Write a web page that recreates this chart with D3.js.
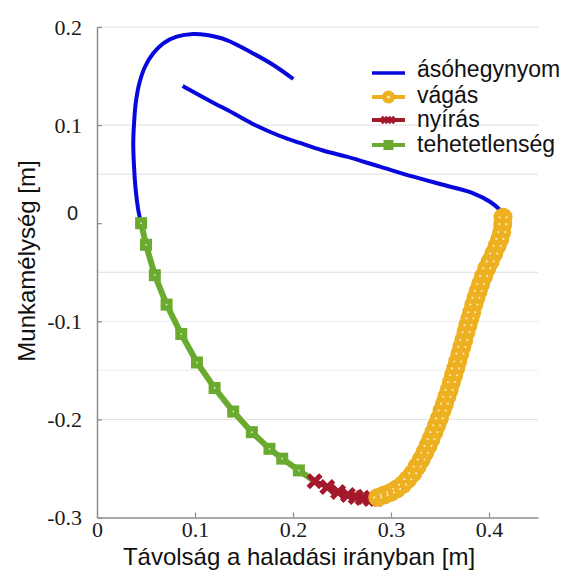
<!DOCTYPE html>
<html>
<head>
<meta charset="utf-8">
<script src="https://cdn.jsdelivr.net/npm/d3@7"></script>
<style>
  html, body { margin: 0; padding: 0; background: #fff; }
  svg { display: block; }
</style>
</head>
<body>
<svg id="chart" width="567" height="574"></svg>
<script>
// Bucket tip trajectory: distance in travel direction [m] vs. working depth [m]

// ásóhegynyom – upper arc of the tip path
const spadeArcX = [0.2003, 0.1799, 0.1561, 0.1323, 0.1119, 0.0983, 0.0813, 0.0677, 0.0574, 0.0490,
                   0.0432, 0.0395, 0.0378, 0.0370, 0.0378, 0.0395, 0.0421, 0.0449];
const spadeArcY = [0.1470, 0.1613, 0.1748, 0.1867, 0.1918, 0.1929, 0.1901, 0.1834, 0.1732, 0.1595,
                   0.1426, 0.1222, 0.1018, 0.0814, 0.0576, 0.0338, 0.0135, -0.0001];
// ásóhegynyom – return stroke toward the cutting start
const spadeReturnX = [0.0874, 0.1153, 0.1388, 0.1612, 0.1867, 0.2071, 0.2306, 0.2548, 0.2888, 0.3228,
                      0.3568, 0.3840, 0.4010, 0.4112, 0.4146];
const spadeReturnY = [0.1399, 0.1246, 0.1123, 0.1001, 0.0889, 0.0818, 0.0741, 0.0678, 0.0576, 0.0474,
                      0.0382, 0.0305, 0.0219, 0.0135, 0.0084];

// vágás (cutting)
const cutX = [0.4143, 0.4140, 0.4130, 0.4110, 0.4083, 0.4048, 0.4012, 0.3978, 0.3945, 0.3915,
              0.3890, 0.3867, 0.3845, 0.3823, 0.3805, 0.3785, 0.3765, 0.3743, 0.3723, 0.3703,
              0.3680, 0.3660, 0.3639, 0.3617, 0.3593, 0.3570, 0.3546, 0.3521, 0.3493, 0.3466,
              0.3438, 0.3408, 0.3377, 0.3344, 0.3308, 0.3267, 0.3222, 0.3172, 0.3118, 0.3058,
              0.2995, 0.2930, 0.2865];
const cutY = [0.006, -0.001, -0.009, -0.016, -0.023, -0.031, -0.039, -0.046, -0.054, -0.062,
              -0.069, -0.076, -0.083, -0.091, -0.097, -0.104, -0.111, -0.119, -0.126, -0.133,
              -0.141, -0.148, -0.155, -0.162, -0.170, -0.177, -0.184, -0.191, -0.199, -0.206,
              -0.213, -0.220, -0.227, -0.234, -0.241, -0.248, -0.255, -0.261, -0.2665, -0.271,
              -0.2745, -0.277, -0.2795];

// nyírás (shearing)
const shearX = [0.222, 0.235, 0.246, 0.256, 0.264, 0.271, 0.279, 0.285];
const shearY = [-0.263, -0.269, -0.274, -0.277, -0.279, -0.280, -0.281, -0.281];

// tehetetlenség (inertia)
const inertiaX = [0.045, 0.050, 0.059, 0.071, 0.086, 0.102, 0.120, 0.139, 0.158, 0.176, 0.189, 0.206];
const inertiaY = [0.000, -0.022, -0.053, -0.083, -0.113, -0.142, -0.168, -0.192, -0.213, -0.230, -0.240, -0.252];

const seriesNames = ["ásóhegynyom", "vágás", "nyírás", "tehetetlenség"];
const seriesColors = ["#0808dc", "#edb021", "#a3182a", "#6aab2f"];

const xTickValues = [0, 0.1, 0.2, 0.3, 0.4];
const yTickValues = [-0.3, -0.2, -0.1, 0, 0.1, 0.2];
const gridValues = [0.2, 0.1, 0.05, -0.05, -0.1, -0.15, -0.2];
const xDomain = [0, 0.45];
const yDomain = [-0.3, 0.2];
const xTitle = "Távolság a haladási irányban [m]";
const yTitle = "Munkamélység [m]";

const zip = (xs, ys) => xs.map((v, i) => [v, ys[i]]);
const serif = "'Liberation Serif', 'Times New Roman', serif";
const sans = "'Liberation Sans', Arial, sans-serif";

const svg = d3.select("#chart");
const margin = { left: 97, top: 27, right: 29, bottom: 56.5 };
const W = 567, H = 574;

const x = d3.scaleLinear().domain(xDomain).range([margin.left, W - margin.right]);
const y = d3.scaleLinear().domain(yDomain).range([H - margin.bottom, margin.top]);

// horizontal grid
svg.append("g").selectAll("line").data(gridValues).join("line")
  .attr("x1", x(xDomain[0])).attr("x2", x(xDomain[1]))
  .attr("y1", d => y(d)).attr("y2", d => y(d))
  .attr("stroke", d => (d === -0.1 || d === -0.15) ? "#ececec" : "#dedede")
  .attr("stroke-width", 1);

// axes (plain hyphen for negatives)
const tickText = d => d === 0 ? "0" : d.toFixed(1);
const yAxis = d3.axisLeft(y).tickValues(yTickValues)
  .tickSizeInner(-5).tickSizeOuter(0).tickPadding(15).tickFormat(tickText);
const xAxis = d3.axisBottom(x).tickValues(xTickValues)
  .tickSizeInner(-5).tickSizeOuter(0).tickPadding(4).tickFormat(tickText);

const gy = svg.append("g").attr("transform", `translate(${margin.left},0)`).call(yAxis);
const gx = svg.append("g").attr("transform", `translate(0,${y(yDomain[0])})`).call(xAxis);

[gx, gy].forEach(g => {
  g.attr("font-family", null).attr("font-size", null);
  g.select(".domain").attr("stroke", "#8c8c8c").attr("stroke-width", 1.5);
  g.selectAll(".tick line").attr("stroke", "#8c8c8c").attr("stroke-width", 1.2);
  g.selectAll(".tick text")
    .style("font-family", serif)
    .style("font-size", "22px").attr("fill", "#1a1a1a");
});
gx.selectAll(".tick line").filter(d => d === 0).remove();
gy.selectAll(".tick text").filter(d => d === 0)
  .style("font-family", sans)
  .style("font-size", "20px")
  .attr("transform", "translate(-4,-10)");

// axis titles
svg.append("text")
  .attr("x", 299).attr("y", 565)
  .attr("text-anchor", "middle")
  .style("font-family", sans)
  .style("font-size", "24px").attr("fill", "#111")
  .text(xTitle);
svg.append("text")
  .attr("transform", "translate(35,261) rotate(-90)")
  .attr("text-anchor", "middle")
  .style("font-family", sans)
  .style("font-size", "24px").attr("fill", "#111")
  .text(yTitle);

const line = d3.line().x(d => x(d[0])).y(d => y(d[1])).curve(d3.curveCatmullRom);
const straight = d3.line().x(d => x(d[0])).y(d => y(d[1]));
const plot = svg.append("g");

// ásóhegynyom
[zip(spadeArcX, spadeArcY), zip(spadeReturnX, spadeReturnY)].forEach(pts => {
  plot.append("path").datum(pts).attr("d", line)
    .attr("fill", "none").attr("stroke", seriesColors[0])
    .attr("stroke-width", 4).attr("stroke-linecap", "butt");
});

// tehetetlenség: line runs on to where shearing begins
const inertiaPts = zip(inertiaX, inertiaY);
plot.append("path").datum(inertiaPts.concat([[shearX[0], shearY[0]]]))
  .attr("d", straight)
  .attr("fill", "none").attr("stroke", seriesColors[3]).attr("stroke-width", 6);
plot.append("g").selectAll("rect").data(inertiaPts).join("rect")
  .attr("x", d => x(d[0]) - 6).attr("y", d => y(d[1]) - 6)
  .attr("width", 12).attr("height", 12).attr("fill", seriesColors[3]);
plot.append("g").selectAll("circle").data(inertiaPts).join("circle")
  .attr("cx", d => x(d[0])).attr("cy", d => y(d[1])).attr("r", 0.9)
  .attr("fill", "#d8ecc4");

// nyírás
const shearPts = zip(shearX, shearY);
plot.append("path").datum(shearPts).attr("d", straight)
  .attr("fill", "none").attr("stroke", seriesColors[2]).attr("stroke-width", 5);
const xMark = "M-4.5,-4.5L4.5,4.5M-4.5,4.5L4.5,-4.5";
plot.append("g").selectAll("path").data(shearPts).join("path")
  .attr("transform", d => `translate(${x(d[0])},${y(d[1])})`)
  .attr("d", xMark).attr("fill", "none")
  .attr("stroke", seriesColors[2]).attr("stroke-width", 5).attr("stroke-linecap", "square");

// vágás
const cutPts = zip(cutX, cutY);
plot.append("path").datum(cutPts).attr("d", line)
  .attr("fill", "none").attr("stroke", seriesColors[1]).attr("stroke-width", 4);
plot.append("g").selectAll("circle").data(cutPts).join("circle")
  .attr("cx", d => x(d[0])).attr("cy", d => y(d[1])).attr("r", 9.5)
  .attr("fill", seriesColors[1]);
const dots = plot.append("g").attr("fill", "#fbe6b0");
[-3.5, 3.5].forEach(off => {
  dots.append("g").selectAll("circle").data(cutPts).join("circle")
    .attr("cx", d => x(d[0]) + off).attr("cy", d => y(d[1])).attr("r", 1.1);
});

// legend
const legendX0 = 372, legendX1 = 405, legendTextX = 417;
const legendRowY = [73, 97, 120, 145];
const legendBase = [77, 103, 127, 152];
const lg = svg.append("g");
seriesNames.forEach((name, i) => {
  const yy = legendRowY[i];
  lg.append("line").attr("x1", legendX0).attr("x2", legendX1)
    .attr("y1", yy).attr("y2", yy)
    .attr("stroke", seriesColors[i]).attr("stroke-width", i === 0 ? 3.5 : 4);
  const cx = (legendX0 + legendX1) / 2;
  if (i === 1) {
    lg.append("circle").attr("cx", cx).attr("cy", yy).attr("r", 6.5).attr("fill", seriesColors[1]);
    lg.append("circle").attr("cx", cx).attr("cy", yy).attr("r", 1.6).attr("fill", "#fbe9b8");
  } else if (i === 2) {
    [cx - 4, cx + 3].forEach(mx => {
      lg.append("path").attr("transform", `translate(${mx},${yy})`)
        .attr("d", "M-3,-3L3,3M-3,3L3,-3").attr("fill", "none")
        .attr("stroke", seriesColors[2]).attr("stroke-width", 3.5);
    });
  } else if (i === 3) {
    lg.append("rect").attr("x", cx - 5).attr("y", yy - 5).attr("width", 10).attr("height", 10)
      .attr("fill", seriesColors[3]);
  }
  lg.append("text").attr("x", legendTextX).attr("y", legendBase[i])
    .style("font-family", sans)
    .style("font-size", "23px").attr("fill", "#111")
    .text(name);
});
</script>
</body>
</html>
